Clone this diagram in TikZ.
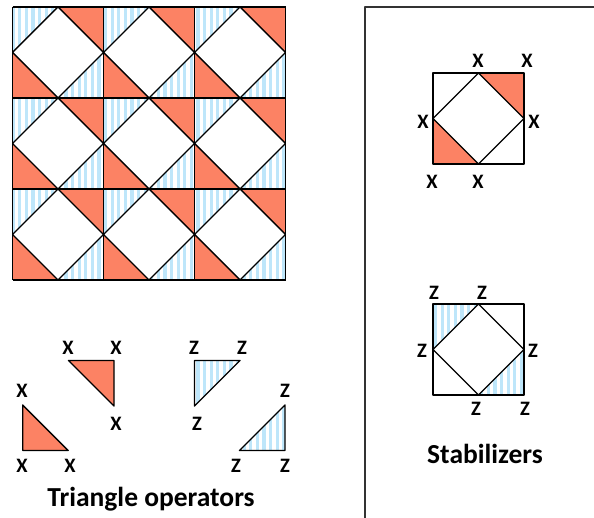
\documentclass[tikz,border=0pt]{standalone}
\usepackage{fontspec}
\setmainfont{Carlito}
\usetikzlibrary{patterns.meta}
\definecolor{xred}{RGB}{252,130,100}
\definecolor{zblue}{RGB}{190,230,250}
\newlength{\CellSize}
\newlength{\HalfCell}
\setlength{\CellSize}{91pt}
\setlength{\HalfCell}{45.5pt}
\tikzset{
  x tri/.style={fill=xred},
  z tri/.style={pattern={Lines[angle=90,distance=6.6pt,line width=3.2pt]}, pattern color=zblue},
  grid line/.style={draw=black, line width=1.8pt},
  diag line/.style={draw=black, line width=1.4pt},
  stab line/.style={draw=black, line width=1.1pt},
  op label/.style={inner sep=0pt, font=\bfseries\fontsize{20.5}{20.5}\selectfont},
  title text/.style={inner sep=0pt, anchor=base, font=\bfseries\fontsize{27.5}{27.5}\selectfont}
}

\begin{document}
\begin{tikzpicture}[x=1pt, y=1pt, line join=round]
  \useasboundingbox (0,0) rectangle (594,518);

  \foreach \i in {0,1,2} {
    \foreach \j in {0,1,2} {
      \begin{scope}[shift={(12.5+91*\i,238+91*\j)}]
        \path[z tri] (0,\HalfCell) -- (0,\CellSize) -- (\HalfCell,\CellSize) -- cycle;
        \path[z tri] (\HalfCell,0) -- (\CellSize,0) -- (\CellSize,\HalfCell) -- cycle;
        \path[x tri] (\HalfCell,\CellSize) -- (\CellSize,\CellSize) -- (\CellSize,\HalfCell) -- cycle;
        \path[x tri] (0,0) -- (0,\HalfCell) -- (\HalfCell,0) -- cycle;
        \draw[diag line] (\HalfCell,0) -- (\CellSize,\HalfCell) -- (\HalfCell,\CellSize) -- (0,\HalfCell) -- cycle;
      \end{scope}
    }
  }
  \foreach \k in {0,1,2,3} {
    \draw[grid line] (12.5+91*\k,238) -- (12.5+91*\k,511);
    \draw[grid line] (12.5,238+91*\k) -- (285.5,238+91*\k);
  }

  % triangle operators
  \draw[diag line, x tri] (22.7,113) -- (22.7,67.5) -- (68.2,67.5) -- cycle;
  \node[op label] (ta1) at (22,127) {X};
  \node[op label] (ta2) at (22,52) {X};
  \node[op label] (ta3) at (70,52) {X};

  \draw[diag line, x tri] (68.5,157.5) -- (114,157.5) -- (114,112) -- cycle;
  \node[op label] (tb1) at (68,170) {X};
  \node[op label] (tb2) at (116,170) {X};
  \node[op label] (tb3) at (116,94) {X};

  \draw[diag line, z tri] (194.5,157.5) -- (240,157.5) -- (194.5,112) -- cycle;
  \node[op label] (tc1) at (194,170) {Z};
  \node[op label] (tc2) at (242,170) {Z};
  \node[op label] (tc3) at (197,94) {Z};

  \draw[diag line, z tri] (285,113) -- (285,67.5) -- (239.5,67.5) -- cycle;
  \node[op label] (td1) at (285,127) {Z};
  \node[op label] (td2) at (236,52) {Z};
  \node[op label] (td3) at (285,52) {Z};

  \node[title text] (optitle) at (151,11.3) {Triangle operators};

  % stabilizer panel
  \draw[stab line, draw=black!80] (365,0) -- (365,511) -- (594,511);

  \begin{scope}[shift={(433,354)}]
    \path[x tri] (\HalfCell,\CellSize) -- (\CellSize,\CellSize) -- (\CellSize,\HalfCell) -- cycle;
    \path[x tri] (0,0) -- (0,\HalfCell) -- (\HalfCell,0) -- cycle;
    \draw[stab line] (0,0) rectangle (\CellSize,\CellSize);
    \draw[stab line] (\HalfCell,0) -- (\CellSize,\HalfCell) -- (\HalfCell,\CellSize) -- (0,\HalfCell) -- cycle;
  \end{scope}
  \node[op label] (xs1) at (478,457) {X};
  \node[op label] (xs2) at (527,457) {X};
  \node[op label] (xs3) at (423,396) {X};
  \node[op label] (xs4) at (534,396) {X};
  \node[op label] (xs5) at (432,336) {X};
  \node[op label] (xs6) at (478,336) {X};

  \begin{scope}[shift={(433,123)}]
    \path[z tri] (0,\HalfCell) -- (0,\CellSize) -- (\HalfCell,\CellSize) -- cycle;
    \path[z tri] (\HalfCell,0) -- (\CellSize,0) -- (\CellSize,\HalfCell) -- cycle;
    \draw[stab line] (0,0) rectangle (\CellSize,\CellSize);
    \draw[stab line] (\HalfCell,0) -- (\CellSize,\HalfCell) -- (\HalfCell,\CellSize) -- (0,\HalfCell) -- cycle;
  \end{scope}
  \node[op label] (zs1) at (434,225) {Z};
  \node[op label] (zs2) at (482,225) {Z};
  \node[op label] (zs3) at (422,167) {Z};
  \node[op label] (zs4) at (533,167) {Z};
  \node[op label] (zs5) at (476,109) {Z};
  \node[op label] (zs6) at (525,109) {Z};

  \node[title text] (stabtitle) at (485,54.7) {Stabilizers};
\end{tikzpicture}
\end{document}
